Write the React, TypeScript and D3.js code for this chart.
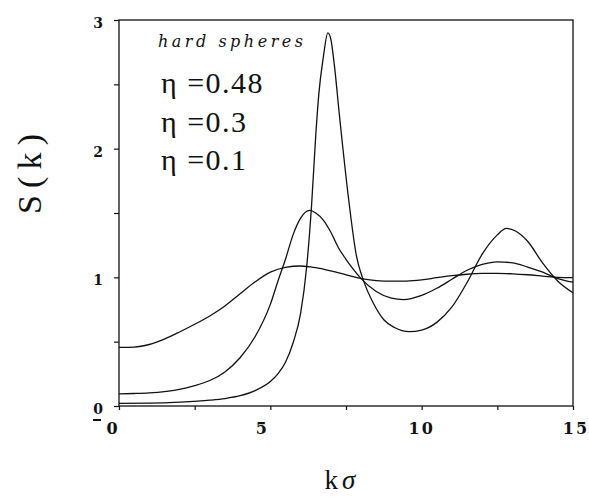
import { useEffect, useRef } from 'react';
import * as d3 from 'd3';

// S(k), one array pair per packing fraction
const k01 = [0, 0.5, 1, 1.5, 2, 2.5, 3, 3.5, 4, 4.5, 5, 5.5, 6, 6.5, 7, 7.5, 8, 8.5, 9, 9.5, 10, 10.5, 11, 11.5, 12, 12.5, 13, 13.5, 14, 14.5, 15];
const s01 = [0.456, 0.458, 0.478, 0.52, 0.575, 0.635, 0.7, 0.777, 0.872, 0.965, 1.04, 1.078, 1.088, 1.075, 1.05, 1.02, 0.99, 0.975, 0.97, 0.971, 0.98, 0.997, 1.013, 1.024, 1.03, 1.031, 1.027, 1.02, 1.01, 1.0, 0.998];

const k03 = [0, 0.5, 1, 1.5, 2, 2.5, 3, 3.5, 4, 4.5, 5, 5.25, 5.5, 5.75, 6, 6.3, 6.5, 6.75, 7, 7.25, 7.5, 7.75, 8, 8.5, 9, 9.4, 10, 10.5, 11, 11.5, 12, 12.5, 13, 13.5, 14, 14.5, 15];
const s03 = [0.094, 0.097, 0.102, 0.112, 0.13, 0.158, 0.198, 0.265, 0.375, 0.54, 0.79, 0.97, 1.14, 1.33, 1.46, 1.52, 1.5, 1.445, 1.35, 1.23, 1.14, 1.06, 0.99, 0.89, 0.838, 0.827, 0.86, 0.915, 0.985, 1.055, 1.1, 1.12, 1.113, 1.08, 1.04, 0.99, 0.962];

const k048 = [0, 1, 2, 3, 3.5, 4, 4.5, 5, 5.25, 5.5, 5.75, 6, 6.2, 6.36, 6.5, 6.6, 6.75, 6.9, 7.0, 7.1, 7.3, 7.57, 7.85, 8.07, 8.4, 8.75, 9.1, 9.6, 10, 10.5, 11, 11.5, 12, 12.5, 12.8, 13.1, 13.5, 14, 14.5, 15];
const s048 = [0.02, 0.022, 0.03, 0.045, 0.058, 0.08, 0.12, 0.19, 0.25, 0.34, 0.49, 0.72, 1.08, 1.55, 2.1, 2.42, 2.71, 2.9, 2.85, 2.68, 2.22, 1.64, 1.16, 0.98, 0.8, 0.67, 0.61, 0.578, 0.59, 0.65, 0.77, 0.96, 1.18, 1.33, 1.38, 1.36, 1.28, 1.11, 0.97, 0.88];

const xTicks = [0, 5, 10, 15];
const yTicks = [0, 1, 2, 3];
const legendLines = ['η =0.48', 'η =0.3', 'η =0.1'];

const serif = "'Liberation Serif', 'DejaVu Serif', serif";
const boldSerif = "'DejaVu Serif', 'Liberation Serif', serif";

const App = () => {
  const ref = useRef<SVGSVGElement>(null);

  useEffect(() => {
    const width = 589;
    const height = 497;
    const margin = { top: 20, right: 16, bottom: 91, left: 119 };

    const svg = d3.select(ref.current);
    svg.selectAll('*').remove();

    const x = d3.scaleLinear().domain([0, 15]).range([margin.left, width - margin.right]);
    const y = d3.scaleLinear().domain([0, 3]).range([height - margin.bottom, margin.top]);

    // x axis with minor ticks
    const xAxis = svg.append('g').attr('transform', `translate(0,${y(0)})`);
    xAxis.call(d3.axisBottom(x).tickValues(d3.range(0, 15.01, 2.5)).tickSize(4).tickFormat(() => ''));
    xAxis.select('.domain').remove();
    xAxis.selectAll('line').attr('stroke', '#111').attr('stroke-width', 1.2);

    // y axis with minor ticks
    const yAxis = svg.append('g').attr('transform', `translate(${x(0)},0)`);
    yAxis.call(d3.axisLeft(y).tickValues(d3.range(0, 3.01, 0.5)).tickSize(5).tickFormat(() => ''));
    yAxis.select('.domain').remove();
    yAxis.selectAll('line').attr('stroke', '#111').attr('stroke-width', 1.2);

    // frame
    svg.append('rect')
      .attr('x', x(0)).attr('y', y(3))
      .attr('width', x(15) - x(0)).attr('height', y(0) - y(3))
      .attr('fill', 'none').attr('stroke', '#111').attr('stroke-width', 1.3);

    // tick labels
    svg.append('g').selectAll('text').data(yTicks).join('text')
      .attr('x', 103).attr('y', (d) => y(d) + 8)
      .attr('text-anchor', 'end')
      .style('font-family', boldSerif).style('font-weight', 'bold').style('font-size', '14px')
      .attr('fill', '#111')
      .text((d) => d);

    svg.append('g').selectAll('text').data(xTicks).join('text')
      .attr('x', (d) => x(d) - (d === 0 ? 6 : d === 5 ? 8 : d === 15 ? -3 : 0))
      .attr('y', 434)
      .attr('text-anchor', 'middle')
      .style('font-family', boldSerif).style('font-weight', 'bold').style('font-size', '16px')
      .style('letter-spacing', '2px')
      .attr('fill', '#111')
      .text((d) => d);

    // stray dash left of the x "0"
    svg.append('line')
      .attr('x1', 93).attr('x2', 101).attr('y1', 420).attr('y2', 420)
      .attr('stroke', '#111').attr('stroke-width', 2);

    // curves
    const series = [
      { k: k01, s: s01 },
      { k: k03, s: s03 },
      { k: k048, s: s048 },
    ];
    const line = d3.line<[number, number]>()
      .x((d) => x(d[0]))
      .y((d) => y(d[1]))
      .curve(d3.curveMonotoneX);

    series.forEach(({ k, s }) => {
      svg.append('path')
        .attr('d', line(k.map((v, i) => [v, s[i]] as [number, number])))
        .attr('fill', 'none')
        .attr('stroke', '#111')
        .attr('stroke-width', 1.3);
    });

    // legend text
    svg.append('text')
      .attr('x', 158).attr('y', 47)
      .attr('textLength', 145).attr('lengthAdjust', 'spacing')
      .style('font-family', boldSerif).style('font-style', 'italic').style('font-size', '16px')
      .attr('fill', '#111')
      .text('hard spheres');

    svg.append('g').selectAll('text').data(legendLines).join('text')
      .attr('x', 161).attr('y', (d, i) => 93 + i * 38.5)
      .style('font-family', serif).style('font-size', '30px')
      .style('letter-spacing', '1.5px')
      .attr('fill', '#111')
      .text((d) => d);

    // axis titles
    svg.append('text')
      .attr('transform', 'translate(41,174) rotate(-90)')
      .attr('text-anchor', 'middle')
      .attr('textLength', 80).attr('lengthAdjust', 'spacing')
      .style('font-family', serif).style('font-size', '34px')
      .attr('fill', '#111')
      .text('S(k)');

    svg.append('text')
      .attr('x', 340).attr('y', 489)
      .attr('text-anchor', 'middle')
      .style('font-family', serif).style('font-size', '27px')
      .attr('fill', '#111')
      .text('k')
      .append('tspan')
      .attr('dx', 4)
      .style('font-style', 'italic')
      .text('σ');
  }, []);

  return (
    <svg
      ref={ref}
      width={589}
      height={497}
      style={{ position: 'absolute', left: 0, top: 0, background: '#fff' }}
    />
  );
};

export default App;
